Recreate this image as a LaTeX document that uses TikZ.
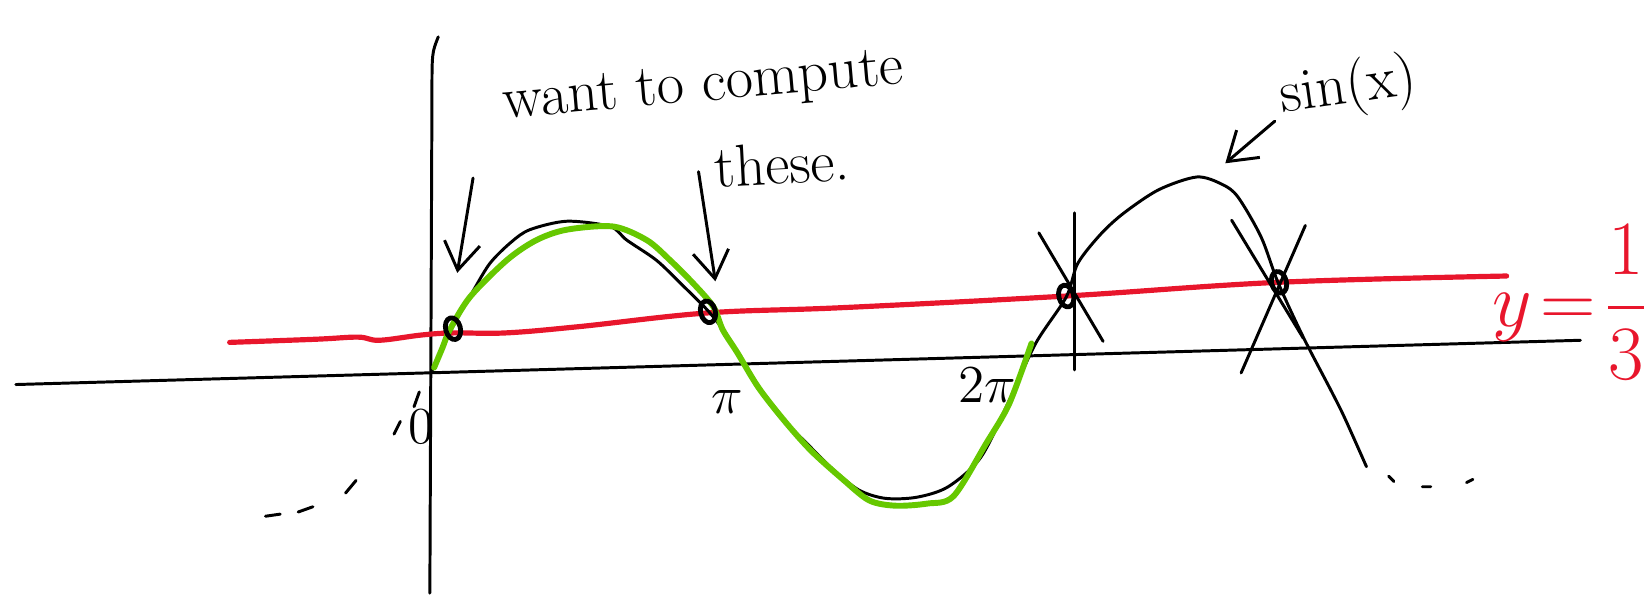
\documentclass[tikz,border=0pt]{standalone}
\usepackage{amsmath}
\usepackage{xcolor}
\usepackage{tikz}
\usetikzlibrary{arrows.meta, positioning, calc, shapes.geometric}
\definecolor{penred}{RGB}{232,22,44}
\definecolor{pengreen}{RGB}{102,200,0}

\begin{document}
\begin{tikzpicture}[x=0.01cm, y=-0.01cm, line cap=round, line join=round,
    pen/.style={line width=0.8pt, black},
    hit/.style={ellipse, draw, line width=1.3pt, inner sep=0pt, minimum width=0.14cm, minimum height=0.21cm, rotate=15},
    arr/.style={pen, -{Straight Barb[length=2.6mm, width=3.4mm]}},
    scribble/.style={font=\fontsize{16}{19}\selectfont, inner sep=0pt}]
    \useasboundingbox (0,0) rectangle (1568,565);

    % axes
    \draw[pen] (416,35) .. controls (410,50) .. (410,90) -- (408,563);
    \draw[pen] (15,365) -- (1500,323);

    % y = 1/3
    \draw[penred, line width=1.4pt] plot[smooth, tension=0.6] coordinates {(218,325) (300,322) (340,320) (360,323) (400,318) (430,316) (480,316) (550,310) (672,297) (800,292) (1012,281) (1213,268) (1430,262)};
    \node[text=penred, font=\fontsize{20}{24}\selectfont, inner sep=0pt, anchor=east] (lineLabel) at (1565,287) {$y\!=\!\dfrac{1}{3}$};

    % sin(x)
    \draw[pen] plot[smooth, tension=0.5] coordinates {(410,352) (420,330) (433,304) (448,278) (465,250) (485,230) (503,218) (538,210) (579,215) (595,228) (623,247) (646,269) (672,295) (690,318) (705,343) (720,368) (740,395) (765,420) (790,445) (815,465) (840,473) (870,472) (900,462) (931,434) (958,380) (983,326) (1012,282) (1023,250) (1045,222) (1067,202) (1100,180) (1136,168) (1160,175) (1175,187) (1197,225) (1213,268) (1237,320) (1263,370) (1276,396) (1297,443)};

    % one period
    \draw[pengreen, line width=1.6pt] plot[smooth, tension=0.5] coordinates {(412,349) (420,330) (427,313) (446,282) (481,247) (509,228) (538,218) (582,215) (614,228) (636,247) (658,269) (677,291) (686,313) (700,335) (720,368) (745,400) (770,428) (800,455) (825,475) (850,480) (880,478) (905,471) (936,421) (958,383) (979,326)};

    % continuation marks
    \draw[pen] (398,372) -- (393,386) (380,400) -- (374,412) (338,456) -- (328,468) (297,481) -- (283,486) (266,488) -- (252,490);
    \draw[pen] (1318,452) -- (1323,457) (1350,462) -- (1358,462) (1392,458) -- (1398,455);

    % crossings
    \node[hit] (hitA) at (430,312) {};
    \node[hit] (hitB) at (672,296) {};
    \node[hit] (hitC) at (1012,281) {};
    \node[hit] (hitD) at (1214,268) {};
    \draw[pen] (1020,202) -- (1020,351);
    \draw[pen] (986,221) -- (1047,324);
    \draw[pen] (1169,209) -- (1237,321);
    \draw[pen] (1239,214) -- (1178,354);

    % tick labels
    \node[font=\fontsize{14}{16}\selectfont] (zero) at (400,405) {0};
    \node[font=\fontsize{14}{16}\selectfont] (pi) at (690,382) {$\pi$};
    \node[font=\fontsize{14}{16}\selectfont] (twopi) at (937,366) {$2\pi$};

    % notes
    \node[scribble, rotate=5] (want) at (668,84) {want to compute};
    \node[scribble, rotate=3] (these) at (742,155) {these.};
    \node[scribble, rotate=8] (sinx) at (1280,84) {sin(x)};

    \coordinate (wantTailA) at (449,169);
    \coordinate (wantTipA) at (434,259);
    \coordinate (wantTailB) at (663,163);
    \coordinate (wantTipB) at (679,267);
    \coordinate (sinTail) at (1210,115);
    \coordinate (sinTip) at (1163,155);
    \draw[arr] (wantTailA) -- (wantTipA);
    \draw[arr] (wantTailB) -- (wantTipB);
    \draw[arr] (sinTail) -- (sinTip);
\end{tikzpicture}
\end{document}
